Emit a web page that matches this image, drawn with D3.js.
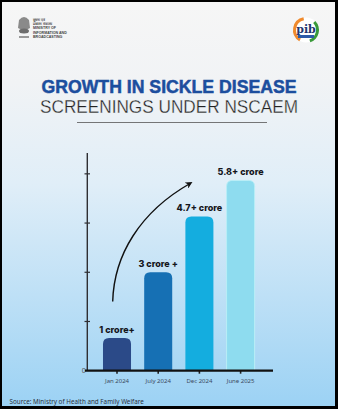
<!DOCTYPE html>
<html><head><meta charset="utf-8">
<script src="https://cdn.jsdelivr.net/npm/d3@7"></script>
<style>html,body{margin:0;padding:0;background:#000;}svg{display:block;}</style>
</head><body>
<svg id="c" width="338" height="409"></svg>
<script>
const categories = ["Jan 2024", "July 2024", "Dec 2024", "June 2025"];
const values = [1, 3, 4.7, 5.8];
const valueLabels = ["1 crore+", "3 crore +", "4.7+ crore", "5.8+ crore"];
const barColors = ["#2b4a88", "#1670b4", "#14addf", "#8edcef"];
const yTicks = [0, 1.5, 3, 4.5, 6];
const titleLine1 = "GROWTH IN SICKLE DISEASE";
const titleLine2 = "SCREENINGS UNDER NSCAEM";
const sourceText = "Source: Ministry of Health and Family Welfare";

const svg = d3.select("#c");
const defs = svg.append("defs");
const bg = defs.append("linearGradient").attr("id","bg").attr("x1",0).attr("y1",0).attr("x2",0).attr("y2",1);
bg.append("stop").attr("offset","0").attr("stop-color","#f6f6f6");
bg.append("stop").attr("offset","0.2").attr("stop-color","#f1f3f5");
bg.append("stop").attr("offset","0.45").attr("stop-color","#e0eef8");
bg.append("stop").attr("offset","1").attr("stop-color","#9cd2f4");
svg.append("rect").attr("x",2).attr("y",2).attr("width",333).attr("height",404).attr("fill","url(#bg)");

// Logos (approximate)
const lg = svg.append("g");
lg.append("path").attr("d","M19,20 q5,-6 10,0 l1,8 q-6,4 -12,0 z").attr("fill","#8a8a8a");
lg.append("ellipse").attr("cx",24).attr("cy",31).attr("rx",5).attr("ry",2.5).attr("fill","#6d6d6d");
lg.append("rect").attr("x",19).attr("y",36).attr("width",10).attr("height",2).attr("fill","#999");
const mt = lg.append("text").attr("x",33).attr("font-family","Liberation Sans, Arial, sans-serif").attr("font-weight","bold").attr("font-size",3.6).attr("fill","#444");
["सूचना एवं","प्रसारण मंत्रालय","MINISTRY OF","INFORMATION AND","BROADCASTING"].forEach((t,i)=>{
  mt.append("tspan").attr("x",33).attr("y",21+i*4.2).text(t);
});
// PIB logo
const pg = svg.append("g").attr("transform","translate(306,30)");
pg.append("circle").attr("r",12.5).attr("fill","#ffffff");
pg.append("path").attr("d",d3.arc()({innerRadius:10,outerRadius:13,startAngle:-2.6,endAngle:-0.2})).attr("fill","#f08a2c");
pg.append("path").attr("d",d3.arc()({innerRadius:10,outerRadius:13,startAngle:0.8,endAngle:2.8})).attr("fill","#3a9a3a");
pg.append("text").attr("text-anchor","middle").attr("y",3).attr("font-family","DejaVu Serif, serif").attr("font-size",11).attr("font-weight","bold").attr("fill","#23356e").text("pib");
pg.append("rect").attr("x",-8).attr("y",5).attr("width",16).attr("height",3).attr("fill","#2c5aa8");

// Titles
svg.append("text").attr("x",169).attr("y",93).attr("text-anchor","middle")
  .attr("font-family","Liberation Sans, Arial, sans-serif").attr("font-weight","bold").attr("font-size",17.5)
  .attr("fill","#1c4e9e").attr("stroke","#1c4e9e").attr("stroke-width",0.5)
  .attr("textLength",255).attr("lengthAdjust","spacingAndGlyphs").text(titleLine1);
svg.append("text").attr("x",169).attr("y",113).attr("text-anchor","middle")
  .attr("font-family","Liberation Sans, Arial, sans-serif").attr("font-weight","normal").attr("font-size",17.5)
  .attr("fill","#222").attr("stroke","#eef2f5").attr("stroke-width",0.3)
  .attr("textLength",258).attr("lengthAdjust","spacingAndGlyphs").text(titleLine2);
svg.append("line").attr("x1",77).attr("x2",267).attr("y1",122.5).attr("y2",122.5).attr("stroke","#555").attr("stroke-width",0.8);

// Scales
const y = d3.scaleLinear().domain([0, 6.62]).range([370.7, 153.5]);
const x = d3.scaleBand().domain(categories).range([96.4, 261.2]).paddingInner(0.32).paddingOuter(0.16);

// Y axis
const yAxis = d3.axisLeft(y).tickValues(yTicks).tickSize(0).tickFormat(d => d === 0 ? "0" : "");
const ya = svg.append("g").attr("transform","translate(87.3,0)").call(yAxis);
ya.select(".domain").remove();
ya.selectAll("text").attr("font-family","Noto Sans, sans-serif").attr("font-size",7).attr("fill","#555").attr("x",-1.5);
svg.append("line").attr("x1",87.3).attr("x2",87.3).attr("y1",153).attr("y2",370.7).attr("stroke","#2f2f33").attr("stroke-width",1.4);
svg.selectAll(".ytk").data(yTicks.filter(d=>d>0)).join("line").attr("class","ytk")
  .attr("x1",84.5).attr("x2",90).attr("y1",d=>y(d)).attr("y2",d=>y(d)).attr("stroke","#2f2f33").attr("stroke-width",1.2);

// Bars with rounded tops
const r = 6;
function barPath(d,i){
  const x0 = x(categories[i]), w = x.bandwidth(), y0 = y(d), y1 = y(0);
  return `M${x0},${y1} L${x0},${y0+r} Q${x0},${y0} ${x0+r},${y0} L${x0+w-r},${y0} Q${x0+w},${y0} ${x0+w},${y0+r} L${x0+w},${y1} Z`;
}
svg.selectAll(".bar").data(values).join("path").attr("class","bar")
  .attr("d",barPath).attr("fill",(d,i)=>barColors[i])
  .attr("stroke",(d,i)=> i===3 ? "#b9eef7" : "none").attr("stroke-width",1);

// Value labels
svg.selectAll(".vl").data(values).join("text").attr("class","vl")
  .attr("x",(d,i)=>x(categories[i]) + x.bandwidth()/2).attr("y",d=>y(d)-5)
  .attr("text-anchor","middle").attr("font-family","Inter, Noto Sans, sans-serif").attr("font-weight",800)
  .attr("font-size",9).attr("fill","#15161c").text((d,i)=>valueLabels[i]);

// X axis
const xAxis = d3.axisBottom(x).tickSize(3).tickSizeOuter(0);
const xa = svg.append("g").attr("transform",`translate(0,${y(0)})`).call(xAxis);
xa.select(".domain").remove();
xa.selectAll(".tick line").attr("stroke","#222").attr("stroke-width",1.6);
xa.selectAll("text").attr("font-family","Noto Sans, sans-serif").attr("font-size",6).attr("fill","#3b4a5e").attr("y",8);
svg.append("line").attr("x1",85).attr("x2",273).attr("y1",y(0)).attr("y2",y(0)).attr("stroke","#111").attr("stroke-width",2.2);

// Arrow
defs.append("marker").attr("id","ah").attr("viewBox","0 0 10 10").attr("refX",6).attr("refY",5)
  .attr("markerWidth",5).attr("markerHeight",5).attr("orient","auto")
  .append("path").attr("d","M0,0 L10,5 L0,10 L3,5 Z").attr("fill","#111");
svg.append("path").attr("d","M112.7,301.5 C114,255 140,212 190,183.5")
  .attr("fill","none").attr("stroke","#111").attr("stroke-width",1.4).attr("marker-end","url(#ah)");

// Source
svg.append("text").attr("x",9.5).attr("y",404).attr("font-family","Noto Sans, sans-serif").attr("font-size",6.3)
  .attr("fill","#2a3140").text(sourceText);
</script>
</body></html>
